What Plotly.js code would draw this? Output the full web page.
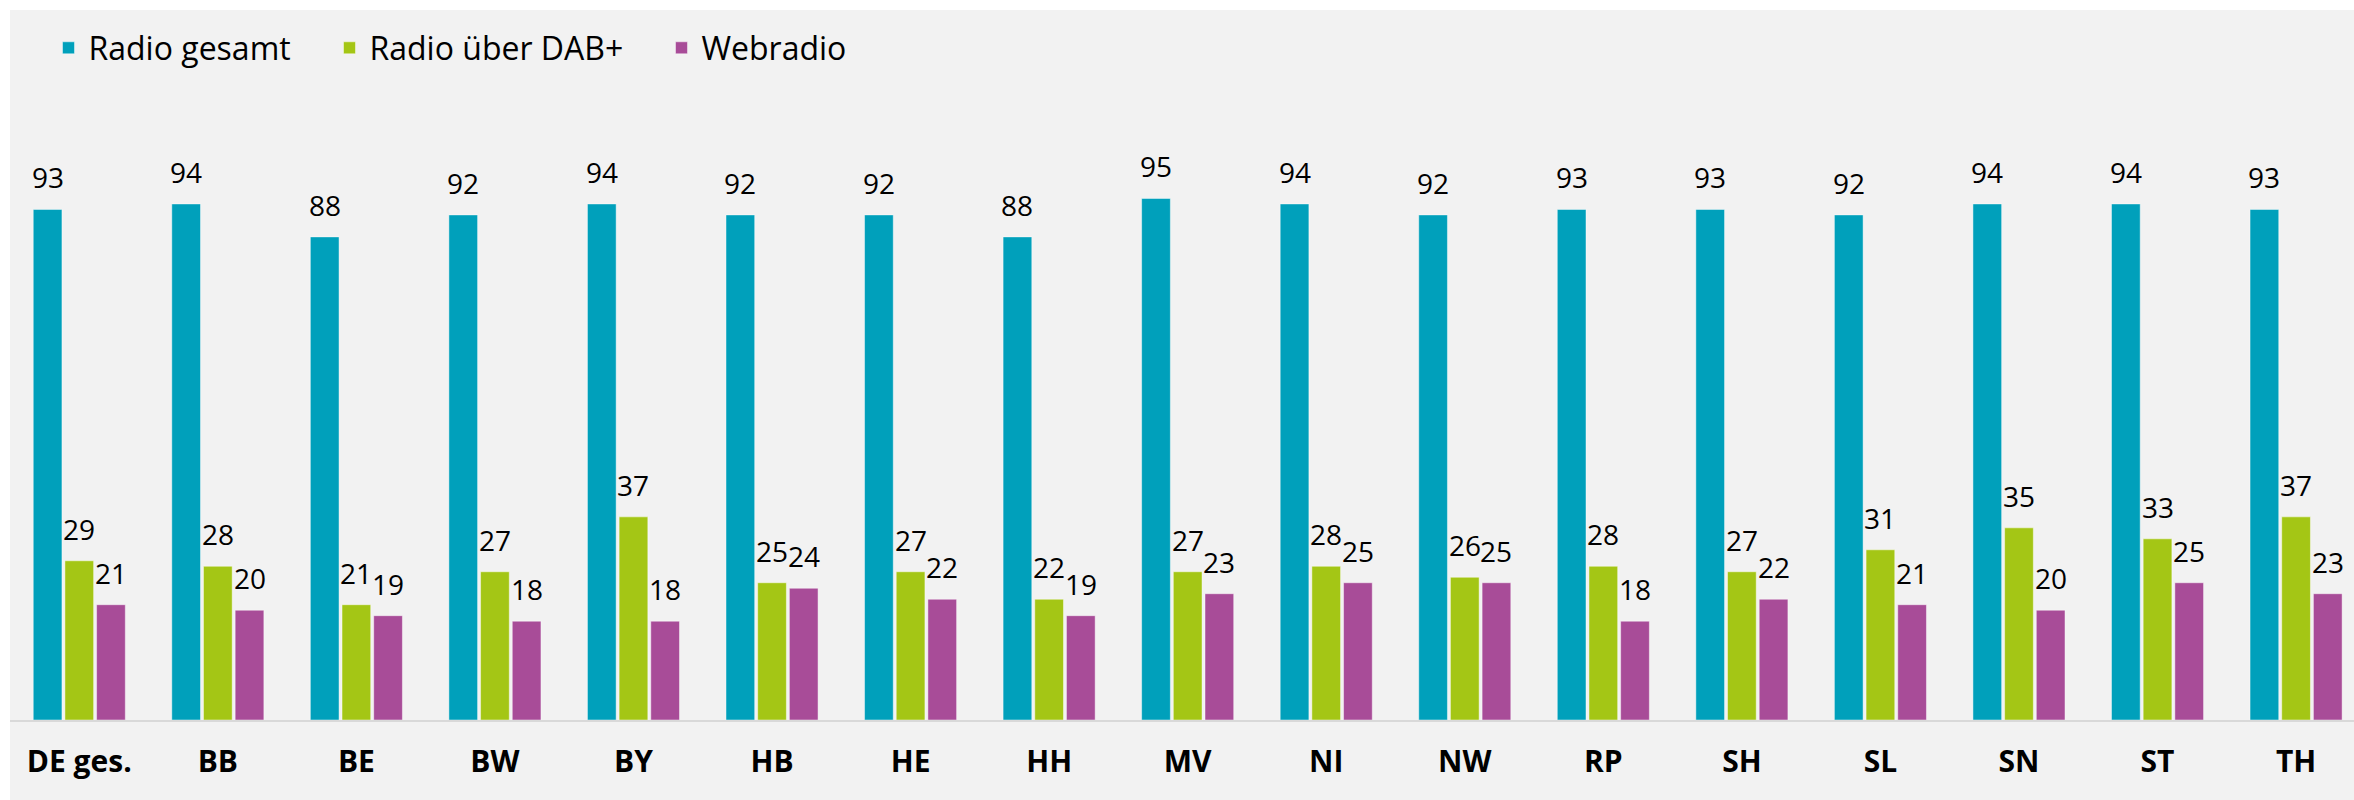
<!DOCTYPE html>
<html>
<head>
<meta charset="utf-8">
<script src="https://cdn.plot.ly/plotly-3.0.1.min.js"></script>
<style>
  html, body { margin: 0; padding: 0; background: #ffffff; }
  #chart { position: absolute; left: 10px; top: 10px; width: 2344px; height: 790px; }
</style>
</head>
<body>
<div id="chart"></div>
<script>
const categories = ["DE ges.", "BB", "BE", "BW", "BY", "HB", "HE", "HH", "MV", "NI", "NW", "RP", "SH", "SL", "SN", "ST", "TH"];
const radioGesamt = [93, 94, 88, 92, 94, 92, 92, 88, 95, 94, 92, 93, 93, 92, 94, 94, 93];
const radioDAB    = [29, 28, 21, 27, 37, 25, 27, 22, 27, 28, 26, 28, 27, 31, 35, 33, 37];
const webradio    = [21, 20, 19, 18, 18, 24, 22, 19, 23, 25, 25, 18, 22, 21, 20, 25, 23];
const seriesNames = ["Radio gesamt", "Radio über DAB+", "Webradio"];
const seriesColors = ["#00A0BB", "#A4C615", "#A84C98"];
const seriesValues = [radioGesamt, radioDAB, webradio];

const W = 2344, H = 790;
const marginL = 0, marginR = 0, marginT = 130, marginB = 80;
const plotW = W - marginL - marginR;
const catPx = 138.55;
const xMax = -0.5 + plotW / catPx;
const pxPerUnit = 5.49;
const yMax = (H - marginT - marginB) / pxPerUnit;
const bargap = 0.314;
const slotPx = catPx * (1 - bargap) / 3;

const legendIds = ["legend", "legend2", "legend3"];
const traces = seriesValues.map((vals, i) => ({
  type: "bar",
  name: seriesNames[i],
  x: categories,
  y: vals,
  legend: legendIds[i],
  marker: { color: seriesColors[i], line: { color: "rgba(255,255,255,0.45)", width: 1 } },
  hoverinfo: "x+y+name"
}));

const annotations = [];
seriesValues.forEach((vals, i) => {
  vals.forEach((v, c) => {
    annotations.push({
      x: categories[c], y: v, xref: "x", yref: "y",
      text: String(v), showarrow: false,
      xanchor: "center", yanchor: "bottom",
      xshift: (i - 1) * slotPx, yshift: 11,
      font: { family: "Open Sans", size: 28, color: "#000000" }
    });
  });
});

const legendY = (H - marginB - 38) / (H - marginT - marginB);
const legendStarts = [38.5, 319.5, 651.5];
const legendBase = {
  orientation: "h", yanchor: "middle", xanchor: "left", y: legendY,
  bgcolor: "rgba(0,0,0,0)", borderwidth: 0,
  font: { family: "Open Sans", size: 32, color: "#000000" },
  itemclick: false, itemdoubleclick: false
};

const layout = {
  width: W, height: H,
  margin: { l: marginL, r: marginR, t: marginT, b: marginB, pad: 0 },
  paper_bgcolor: "#F2F2F2",
  plot_bgcolor: "#F2F2F2",
  barmode: "group",
  bargap: bargap,
  bargroupgap: 0.094,
  showlegend: true,
  legend:  Object.assign({}, legendBase, { x: legendStarts[0] / plotW }),
  legend2: Object.assign({}, legendBase, { x: legendStarts[1] / plotW }),
  legend3: Object.assign({}, legendBase, { x: legendStarts[2] / plotW }),
  xaxis: {
    type: "category",
    range: [-0.5, xMax],
    showline: true, linecolor: "#D9D9D9", linewidth: 2,
    showgrid: false, zeroline: false,
    ticks: "",
    ticklabelstandoff: 14,
    tickfont: { family: "Open Sans", size: 30, color: "#000000", weight: "bold" }
  },
  yaxis: {
    range: [0, yMax],
    visible: false, showgrid: false, zeroline: false
  },
  annotations: annotations
};

Plotly.newPlot("chart", traces, layout, { displayModeBar: false, staticPlot: true });
</script>
</body>
</html>
